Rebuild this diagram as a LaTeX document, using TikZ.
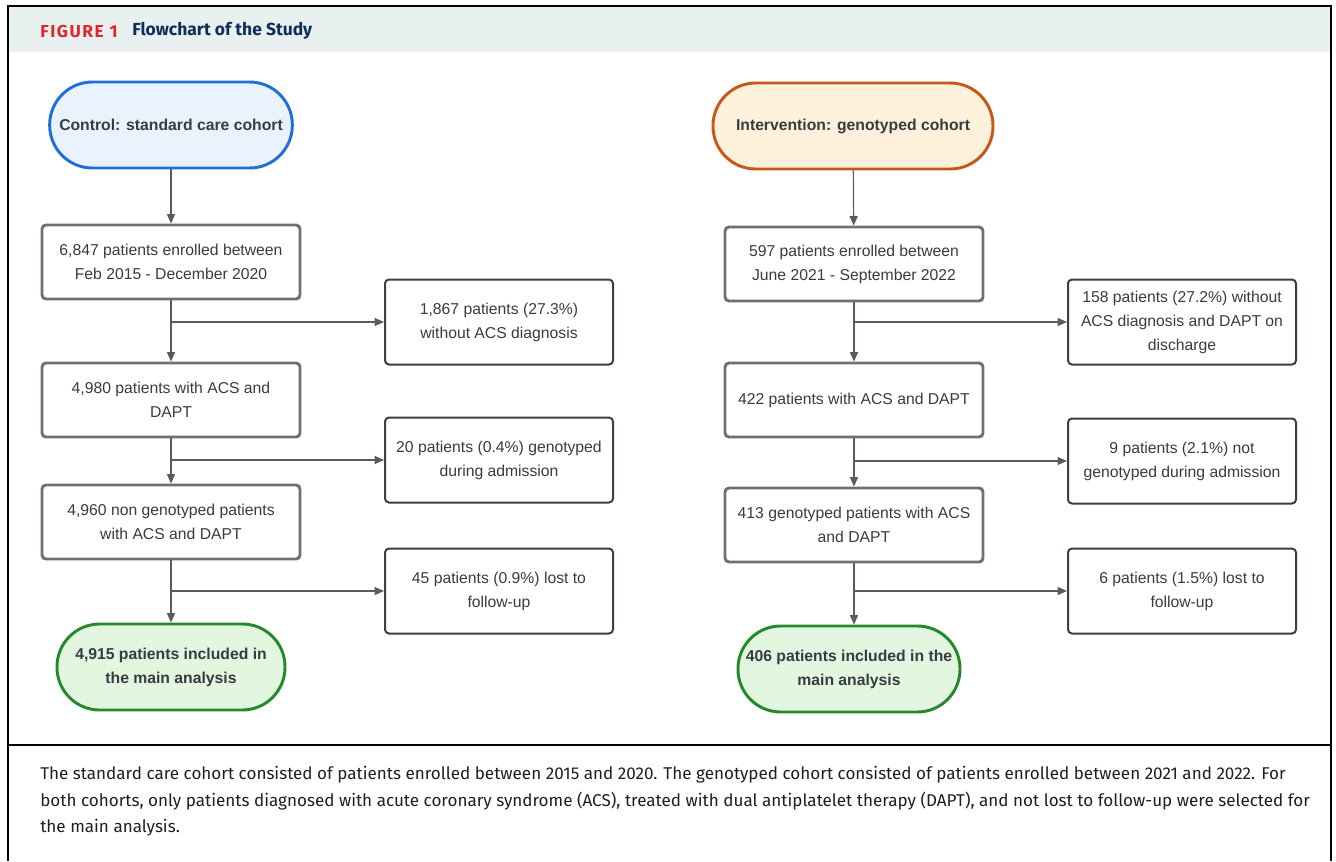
\documentclass[tikz,border=0pt]{standalone}
\usepackage{fontspec}
\setmainfont{Liberation Sans}
\newfontfamily\headfont{Fira Sans}
\newfontfamily\labelfont[LetterSpace=9]{Fira Sans}
\usetikzlibrary{arrows.meta}
\definecolor{ctrlblue}{HTML}{1F6FD8}
\definecolor{ctrlfill}{HTML}{EAF3FD}
\definecolor{intorange}{HTML}{C8561A}
\definecolor{intfill}{HTML}{FDF1DB}
\definecolor{okgreen}{HTML}{23892A}
\definecolor{okfill}{HTML}{E3F6E0}
\definecolor{boxgray}{HTML}{6D7077}
\definecolor{sidegray}{HTML}{3A3E46}
\definecolor{txtgray}{HTML}{383B41}
\definecolor{headbg}{HTML}{E8F1F0}
\definecolor{figred}{HTML}{E2242B}
\definecolor{navy}{HTML}{0F2D5B}
\tikzset{
  box/.style={rectangle, rounded corners=3pt, fill=white, text=txtgray, align=center,
              font=\fontsize{11.8}{18}\selectfont, inner sep=2pt},
  stage/.style={box, draw=boxgray, line width=2.2pt, minimum width=193.5pt, minimum height=55.5pt},
  pill/.style={box, draw=#1, line width=2.2pt, rounded corners=32pt,
               font=\fontsize{11.8}{18}\selectfont\bfseries, minimum height=64.5pt},
  flow/.style={-{Triangle[length=7pt, width=6pt]}, draw=sidegray!85, line width=0.9pt},
}

\begin{document}
\begin{tikzpicture}[x=0.75pt, y=-0.75pt,
  side/.style={box, draw=sidegray, line width=1.5pt, minimum width=171pt, minimum height=63.75pt}]
  \useasboundingbox (0,0) rectangle (1336,861);
  % frame and heading
  \fill[headbg] (8,7) rectangle (1331,52);
  \draw[line width=1.5pt] (8,861) -- (8,6) -- (1331,6) -- (1331,861);
  \draw[line width=1.5pt] (8,745) -- (1331,745);
  \node[anchor=west, inner sep=0pt, text=figred, font=\labelfont\fontsize{13}{15}\selectfont\bfseries] (figlabel) at (40,31) {FIGURE 1};
  \node[anchor=west, inner sep=0pt, text=navy, font=\headfont\fontsize{13.1}{15}\selectfont\bfseries] (figtitle) at (132,31) {Flowchart of the Study};

  % control cohort
  \node[pill=ctrlblue, fill=ctrlfill, minimum width=182pt] (control) at (171,125) {Control: standard care cohort};
  \node[stage] (enrolc) at (171,262) {6,847 patients enrolled between\\Feb 2015 - December 2020};
  \node[side] (noacsc) at (499,322) {1,867 patients (27.3\%)\\without ACS diagnosis};
  \node[stage] (acsc) at (171,400) {4,980 patients with ACS and\\DAPT};
  \node[side] (genoc) at (499,460) {20 patients (0.4\%) genotyped\\during admission};
  \node[stage] (nongenoc) at (171,522) {4,960 non genotyped patients\\with ACS and DAPT};
  \node[side] (lostc) at (499,591) {45 patients (0.9\%) lost to\\follow-up};
  \node[pill=okgreen, fill=okfill, minimum width=171pt] (finalc) at (171,667) {4,915 patients included in\\the main analysis};

  % genotyped cohort
  \node[pill=intorange, fill=intfill, minimum width=210pt] (interv) at (853,126) {Intervention: genotyped cohort};
  \node[stage] (enroli) at (854,264) {597 patients enrolled between\\June 2021 - September 2022};
  \node[side] (noacsi) at (1182,322) {158 patients (27.2\%) without\\ACS diagnosis and DAPT on\\discharge};
  \node[stage] (acsi) at (854,400) {422 patients with ACS and DAPT};
  \node[side] (nogenoi) at (1182,461) {9 patients (2.1\%) not\\genotyped during admission};
  \node[stage] (genoi) at (854,525) {413 genotyped patients with ACS\\and DAPT};
  \node[side] (losti) at (1182,591) {6 patients (1.5\%) lost to\\follow-up};
  \node[pill=okgreen, fill=okfill, minimum width=166.5pt] (finali) at (849,669) {406 patients included in the\\main analysis};

  % connectors
  \draw[flow] (control) -- (enrolc);
  \draw[flow] (enrolc) -- (acsc);
  \draw[flow] (acsc) -- (nongenoc);
  \draw[flow] (nongenoc) -- (finalc);
  \draw[flow] (noacsc.west -| enrolc.south) -- (noacsc.west);
  \draw[flow] (genoc.west -| acsc.south) -- (genoc.west);
  \draw[flow] (lostc.west -| nongenoc.south) -- (lostc.west);
  \draw[flow] (interv) -- (enroli);
  \draw[flow] (enroli) -- (acsi);
  \draw[flow] (acsi) -- (genoi);
  \draw[flow] (genoi.south) -- (genoi.south |- finali.north);
  \draw[flow] (noacsi.west -| enroli.south) -- (noacsi.west);
  \draw[flow] (nogenoi.west -| acsi.south) -- (nogenoi.west);
  \draw[flow] (losti.west -| genoi.south) -- (losti.west);

  % caption
  \node[anchor=north west, align=left, inner sep=0pt, text=black!88, font=\headfont\fontsize{12.8}{19.9}\selectfont] (caption) at (40,766)
    {The standard care cohort consisted of patients enrolled between 2015 and 2020. The genotyped cohort consisted of patients enrolled between 2021 and 2022. For\\
     both cohorts, only patients diagnosed with acute coronary syndrome (ACS), treated with dual antiplatelet therapy (DAPT), and not lost to follow-up were selected for\\
     the main analysis.};
\end{tikzpicture}
\end{document}
